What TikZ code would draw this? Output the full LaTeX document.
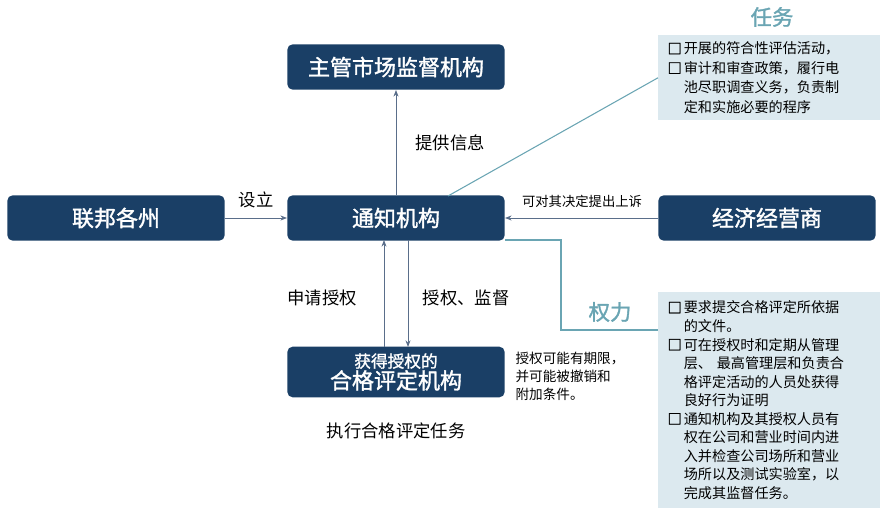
\documentclass[tikz,border=0pt]{standalone}
\usepackage{fontspec}
\setmainfont{Noto Sans CJK SC}
\newfontfamily\boldcjk[FakeBold=1.5]{Noto Sans CJK SC}
\usetikzlibrary{arrows.meta}
\definecolor{navy}{HTML}{1A3F66}
\definecolor{teal}{HTML}{6AA5B3}
\definecolor{pale}{HTML}{DCE9EF}
\definecolor{arr}{HTML}{5A6E8A}
\tikzset{
  org/.style={fill=navy,rounded corners=4pt,minimum width=163pt,minimum height=34pt,text=white,font=\boldcjk\fontsize{16.5}{18}\selectfont,align=center,inner sep=0pt},
  lab/.style={font=\fontsize{13}{15}\selectfont,inner sep=1pt},
  info/.style={fill=pale,text width=152pt,align=left,inner sep=5pt,font=\fontsize{10.6}{14.6}\selectfont},
  conn/.style={draw=arr,-{Stealth[length=5pt]},line width=0.7pt},
  tline/.style={draw=teal,line width=0.8pt}
}
\newcommand{\bx}{\makebox[1.15em][l]{{\boldcjk □}}}
\newcommand{\ind}{\hspace*{1.15em}}
\begin{document}
\begin{tikzpicture}[x=0.75pt,y=-0.75pt]
\useasboundingbox (0,0) rectangle (883,513);
\node[org] (zg) at (396,67) {主管市场监督机构};
\node[org] (lb) at (116,218) {联邦各州};
\node[org] (tz) at (396,218) {通知机构};
\node[org] (jj) at (767,218) {经济经营商};
\node[org,minimum height=38pt,font=\boldcjk\fontsize{12.5}{15}\selectfont] (hg) at (396,372) {获得授权的\\{\fontsize{16.5}{18}\selectfont 合格评定机构}};
\node[info,minimum height=63.75pt,anchor=north west,inner xsep=7pt] (rw) at (658,35) {\bx 开展的符合性评估活动，\\\bx 审计和审查政策，履行电\\\ind 池尽职调查义务，负责制\\\ind 定和实施必要的程序};
\node[info,minimum height=162pt,anchor=north west,inner xsep=7pt,inner ysep=3pt,font=\fontsize{10.6}{13.9}\selectfont] (ql) at (658,292) {\bx 要求提交合格评定所依据\\\ind 的文件。\\\bx 可在授权时和定期从管理\\\ind 层、 最高管理层和负责合\\\ind 格评定活动的人员处获得\\\ind 良好行为证明\\\bx 通知机构及其授权人员有\\\ind 权在公司和营业时间内进\\\ind 入并检查公司场所和营业\\\ind 场所以及测试实验室，以\\\ind 完成其监督任务。};
\node[text=teal,font=\boldcjk\fontsize{16}{18}\selectfont] (rwt) at (772,17) {任务};
\node[text=teal,font=\boldcjk\fontsize{16}{18}\selectfont] (qlt) at (610,312) {权力};
\draw[conn] (tz.north) -- (zg.south);
\draw[conn] (lb) -- (tz);
\draw[conn] (jj) -- (tz);
\coordinate (u1) at (384,347); \coordinate (u2) at (384,240);
\coordinate (d1) at (408,240); \coordinate (d2) at (408,347);
\draw[conn] (u1) -- (u2);
\draw[conn] (d1) -- (d2);
\coordinate (t0) at (448,196);
\draw[tline] (t0) -- (rw.west);
\coordinate (p0) at (505,240); \coordinate (p1) at (561,240); \coordinate (p2) at (561,330); \coordinate (p3) at (658,330);
\draw[tline] (p0) -- (p1) -- (p2) -- (p3);
\node[lab] (l1) at (450,143) {提供信息};
\node[lab] (l2) at (256,200) {设立};
\node[lab,font=\fontsize{10}{11}\selectfont] (l3) at (582,201) {可对其决定提出上诉};
\node[lab] (l4) at (322,298) {申请授权};
\node[lab] (l5) at (466,298) {授权、监督};
\node[lab,font=\fontsize{10.2}{13.5}\selectfont,align=left,anchor=north west] (l6) at (514,350) {授权可能有期限，\\并可能被撤销和\\附加条件。};
\node[lab] (l7) at (396,431) {执行合格评定任务};
\end{tikzpicture}
\end{document}
